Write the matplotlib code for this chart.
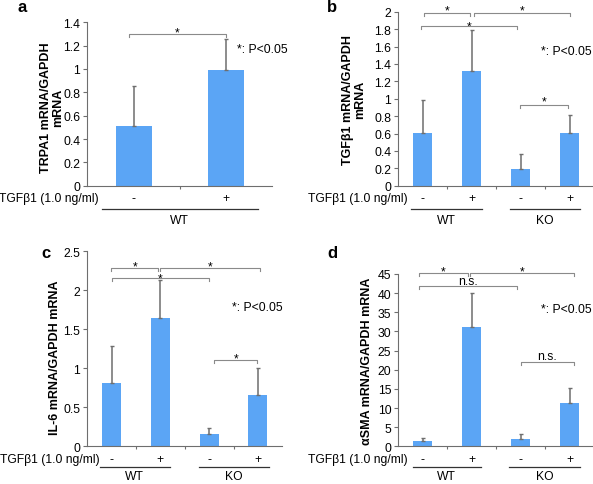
#=========================================================================
import numpy as np
import matplotlib
matplotlib.use('Agg')
import matplotlib.pyplot as plt
import matplotlib.transforms as mtrans

plt.rcParams['font.family'] = ['Liberation Sans', 'DejaVu Sans']

#=========================================================================
# values (mean and upper error = SD)
trt = ['-', '+']
trpa1_mean = [0.51, 0.99]
trpa1_sd = [0.34, 0.27]

trt4 = ['-', '+', '-', '+']
tgfb1_mean = [0.61, 1.32, 0.19, 0.61]
tgfb1_sd = [0.38, 0.47, 0.17, 0.20]

il6_mean = [0.815, 1.645, 0.155, 0.655]
il6_sd = [0.465, 0.485, 0.075, 0.355]

asma_mean = [1.5, 31.2, 2.0, 11.2]
asma_sd = [0.6, 8.9, 1.1, 4.1]

# significance brackets: (x0, x1, y, label, text offset in pt)
sig_a = [(-0.05, 1.0, 1.30, '*', 0.8)]
sig_b = [(0.02, 0.96, 1.98, '*', 2.0), (1.04, 3.0, 1.98, '*', 2.0),
         (-0.04, 1.92, 1.84, '*', -0.4), (1.98, 2.96, 0.93, '*', 2.4)]
sig_c = [(-0.01, 0.96, 2.29, '*', 0.8), (1.0, 3.05, 2.29, '*', 0.8),
         (0.0, 2.0, 2.16, '*', -0.6), (2.1, 2.99, 1.11, '*', 0.8)]
sig_d = [(-0.07, 0.92, 45.2, '*', 1.0), (0.96, 3.08, 45.2, '*', 1.0),
         (-0.07, 1.92, 41.9, 'n.s.', 3.5), (2.0, 3.08, 22.0, 'n.s.', 4.2)]

BAR = '#5ba5f5'
GREY = '#6e6e6e'
FS = 8.8
FS_T = 8.7

#=========================================================================
def below(ax, dy):
  tr = mtrans.blended_transform_factory(ax.transData, ax.transAxes)
  return mtrans.offset_copy(tr, fig=ax.figure, y=-dy, units='dots')

def panel(ax, means, sds, labels, ymax, ystep, ylabel, ylab_pos,
          sigs, ptext_pos, tgf_x, groups, offs):
  x = np.arange(len(means))
  ax.bar(x, means, width=0.39, color=BAR, zorder=2)
  ax.errorbar(x, means, yerr=[np.zeros(len(sds)), sds], fmt='none',
              ecolor=GREY, elinewidth=1.1, capsize=1.6, capthick=1.0, zorder=3)

  ax.set_xlim(-0.5, len(means) - 0.5)
  ax.set_ylim(0, ymax)
  ax.set_yticks(np.round(np.arange(0, ymax + ystep/2, ystep), 3))
  ax.yaxis.set_major_formatter(plt.FuncFormatter(lambda v, p: '%g' % v))
  ax.set_xticks([])
  ax.set_xticks(np.arange(0.5, len(means) - 0.5), minor=True)
  ax.tick_params(axis='y', labelsize=FS, length=3, width=0.8, color=GREY, pad=2)
  ax.tick_params(axis='x', which='minor', length=2, width=0.8, color=GREY)
  for s in ['top', 'right']:
    ax.spines[s].set_visible(False)
  for s in ['left', 'bottom']:
    ax.spines[s].set_color(GREY)
    ax.spines[s].set_linewidth(0.8)

  ax.text(ylab_pos[0], ylab_pos[1], ylabel, transform=ax.transAxes,
          rotation=90, ha='center', va='center', fontsize=9,
          fontweight='bold', multialignment='center', linespacing=1.0)

  # brackets
  hpx = ax.get_position().height * ax.figure.get_figheight() * ax.figure.dpi
  tick = 3.0 * ymax / hpx
  for x0, x1, y, lab, off in sigs:
    ax.plot([x0, x0, x1, x1], [y - tick, y, y, y - tick], color='#8a8a8a',
            lw=0.8, clip_on=False, zorder=4)
    ax.annotate(lab, xy=((x0 + x1)/2.0, y), xytext=(0, off),
                textcoords='offset points', ha='center', va='center',
                fontsize=FS, annotation_clip=False)

  ax.text(ptext_pos[0], ptext_pos[1], '*: P<0.05', fontsize=FS_T,
          ha='left', va='center')

  # treatment row, underline and group names
  d1, d2, d3 = offs
  ax.text(tgf_x, 0, 'TGF\u03b21 (1.0 ng/ml)', transform=below(ax, d1),
          ha='right', va='center', fontsize=FS_T, clip_on=False)
  for i, s in enumerate(labels):
    ax.text(i, 0, s, transform=below(ax, d1), ha='center', va='center',
            fontsize=FS_T, clip_on=False)
  for g0, g1, name in groups:
    ax.plot([g0, g1], [0, 0], transform=below(ax, d2), color='#333333',
            lw=0.9, clip_on=False)
    ax.text((g0 + g1)/2.0, 0, name, transform=below(ax, d3), ha='center',
            va='center', fontsize=FS_T, clip_on=False)

#=========================================================================
if __name__ == '__main__':
  fig = plt.figure(figsize=(5.93, 4.85), dpi=100)

  axa = fig.add_axes([0.1472, 0.615, 0.312, 0.337])
  axb = fig.add_axes([0.6717, 0.615, 0.3305, 0.3588])
  axc = fig.add_axes([0.1472, 0.0777, 0.3288, 0.402])
  axd = fig.add_axes([0.6717, 0.0777, 0.3305, 0.3553])

  panel(axa, trpa1_mean, trpa1_sd, trt, 1.4, 0.2,
        'TRPA1 mRNA/GAPDH\nmRNA', (-0.19, 0.485), sig_a, (1.115, 1.17),
        -0.375, [(-0.34, 1.34, 'WT')], (12.5, 23.5, 34))
  panel(axb, tgfb1_mean, tgfb1_sd, trt4, 2.0, 0.2,
        'TGF\u03b21 mRNA/GAPDH\nmRNA', (-0.225, 0.5), sig_b, (2.41, 1.55),
        -0.31, [(-0.24, 1.2, 'WT'), (1.78, 3.21, 'KO')], (12.5, 23.5, 34))
  panel(axc, il6_mean, il6_sd, trt4, 2.5, 0.5,
        'IL-6 mRNA/GAPDH mRNA', (-0.164, 0.46), sig_c, (2.46, 1.78),
        -0.24, [(-0.24, 1.19, 'WT'), (1.79, 3.23, 'KO')], (12.5, 20.5, 30))
  panel(axd, asma_mean, asma_sd, trt4, 45, 5,
        '\u03b1SMA mRNA/GAPDH mRNA', (-0.161, 0.5), sig_d, (2.41, 35.8),
        -0.30, [(-0.21, 1.19, 'WT'), (1.76, 3.21, 'KO')], (12.5, 20.5, 30))

  for lab, (px, py) in zip('abcd', [(22, 8), (332, 8), (46, 254), (332, 254)]):
    fig.text(px/593.0, 1 - py/485.0, lab, fontsize=12, fontweight='bold',
             ha='center', va='center')

  fig.savefig('out.png', dpi=100)
